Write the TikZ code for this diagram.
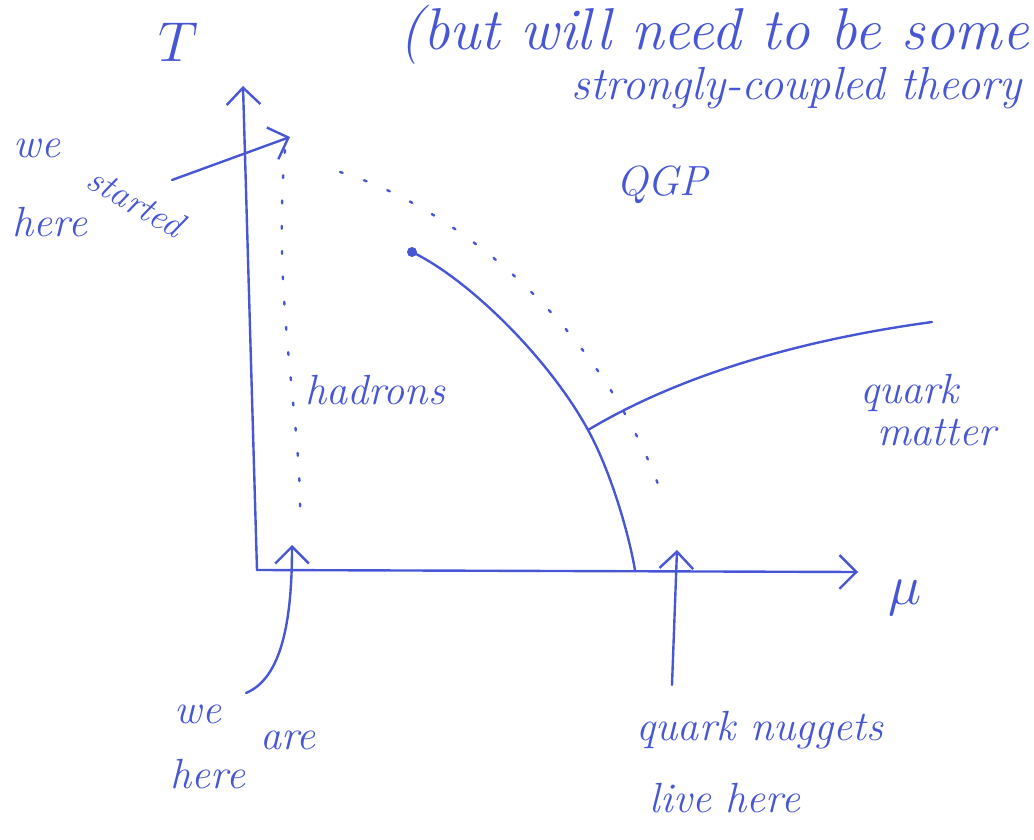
\RequirePackage{fix-cm}
\documentclass[tikz,border=0pt]{standalone}
\usepackage{tikz}
\usetikzlibrary{positioning, arrows.meta, calc}
\definecolor{penblue}{RGB}{70,86,212}
\tikzset{
  pen/.style={draw=penblue, line width=1.7pt, line cap=round, line join=round},
  dots/.style={draw=penblue, line width=1.7pt, line cap=round, dash pattern=on 2pt off 16pt},
  hand/.style={text=penblue, font=\fontsize{30}{34}\selectfont\itshape, inner sep=1pt},
  axlab/.style={text=penblue, font=\fontsize{40}{44}\selectfont, inner sep=1pt},
  barb/.style={-{Straight Barb[length=12pt, width=24pt, line width=1.7pt]}},
}

\begin{document}
\begin{tikzpicture}[x=0.025cm, y=-0.025cm]
    \useasboundingbox (0,0) rectangle (1034,840);
    \clip (0,0) rectangle (1034,840);

    % axes
    \coordinate (O) at (257,570);
    \coordinate (Ttip) at (243,86);
    \coordinate (mutip) at (858,572);
    \draw[pen, barb] (O) -- (Ttip);
    \draw[pen, barb] (O) -- (mutip);
    \node[axlab] (Tlab) at (178,42) {$T$};
    \node[axlab] (mulab) at (905,598) {$\mu$};

    % phase boundaries
    \coordinate (crit) at (412,252);
    \coordinate (triple) at (588,430);
    \coordinate (mu0) at (635,570);
    \coordinate (qmend) at (932,322);
    \fill[penblue] (crit) circle (5);
    \draw[pen] (crit) .. controls (470,280) and (550,360) .. (triple)
                      .. controls (610,470) and (628,530) .. (mu0);
    \draw[pen] (triple) .. controls (680,375) and (800,340) .. (qmend);

    % crossover (dotted)
    \coordinate (lefttop) at (285,150);
    \coordinate (leftbot) at (300,520);
    \coordinate (arctop) at (340,172);
    \coordinate (arcbot) at (662,495);
    \draw[dots] (lefttop) .. controls (272,300) and (302,420) .. (leftbot);
    \draw[dots] (arctop) .. controls (450,205) and (600,320) .. (arcbot);

    % region labels
    \node[hand] (hadrons) at (375,390) {hadrons};
    \node[hand] (qgp) at (662,185) {QGP};
    \node[hand, align=left] (qmatter) at (928,410) {quark\\[-4pt]\hspace{12pt}matter};

    % we started here
    \node[hand] (ws1) at (37,148) {we};
    \node[hand, font=\fontsize{26}{30}\selectfont\itshape, rotate=-30] (ws2) at (136,202) {started};
    \node[hand] (ws3) at (50,222) {here};
    \coordinate (wsTail) at (172,180);
    \coordinate (wsHead) at (290,137);
    \draw[pen, barb] (wsTail) -- (wsHead);

    % we are here
    \node[hand] (wa1) at (198,714) {we};
    \node[hand] (wa2) at (288,740) {are};
    \node[hand] (wa3) at (208,774) {here};
    \coordinate (waTail) at (246,693);
    \coordinate (waHead) at (292,545);
    \draw[pen, barb] (waTail) .. controls (282,678) and (292,620) .. (waHead);

    % quark nuggets live here
    \node[hand] (qn1) at (760,730) {quark nuggets};
    \node[hand] (qn2) at (725,798) {live here};
    \coordinate (qnTail) at (672,685);
    \coordinate (qnHead) at (677,550);
    \draw[pen, barb] (qnTail) -- (qnHead);

    % remark at the top
    \node[hand, font=\fontsize{42}{46}\selectfont\itshape, anchor=west] (rem1) at (398,35) {(but will need to be some};
    \node[hand, font=\fontsize{33}{37}\selectfont\itshape, anchor=west] (rem2) at (570,88) {strongly-coupled theory};
\end{tikzpicture}
\end{document}
